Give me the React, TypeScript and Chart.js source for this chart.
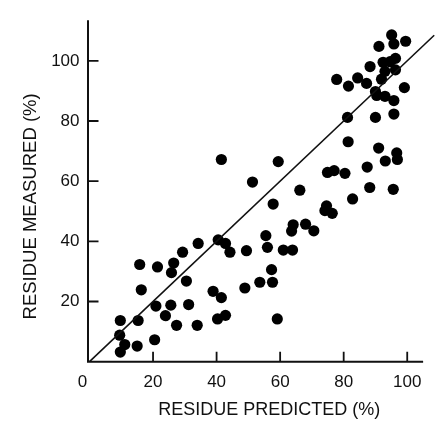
import React, { useEffect, useRef } from "react";
import { Chart, registerables } from "chart.js";

Chart.register(...registerables);

// Scatter data (predicted %, measured %)
const predicted = [
  41.5, 51.3, 95.1, 91.1, 95.8, 99.5, 96.3, 92.4, 94.6, 88.3,
  93.0, 96.3, 91.9, 77.8, 84.4, 87.2, 81.5, 99.1, 90.0, 90.4,
  93.0, 95.8, 81.2, 90.0, 95.8, 81.4, 91.0, 96.7, 96.9, 93.1,
  59.4, 87.4, 74.9, 77.0, 80.4, 66.2, 88.2, 95.6, 57.8, 82.8,
  74.6, 74.1, 76.4, 64.1, 68.0, 63.6, 70.6, 55.5, 56.0, 61.0,
  63.9, 57.3, 53.6, 57.6, 59.1, 40.5, 42.8, 44.2, 49.4, 34.2,
  29.3, 26.5, 25.8, 15.8, 21.4, 30.5, 16.3, 48.9, 38.9, 41.5,
  20.9, 25.6, 31.2, 23.9, 9.7, 15.3, 27.4, 33.9, 40.3, 42.8,
  9.5, 20.5, 11.1, 15.0, 9.7,
];
const measured = [
  67.2, 59.7, 108.6, 104.8, 105.6, 106.5, 100.8, 99.5, 99.7, 98.1,
  96.5, 97.0, 93.9, 93.8, 94.3, 92.5, 91.6, 91.1, 89.8, 88.5,
  88.2, 86.8, 81.2, 81.2, 82.3, 73.1, 71.0, 69.4, 67.2, 66.7,
  66.5, 64.7, 62.9, 63.5, 62.6, 57.0, 57.9, 57.3, 52.4, 54.1,
  51.8, 50.2, 49.3, 45.5, 45.7, 43.4, 43.5, 41.9, 38.0, 37.1,
  37.1, 30.6, 26.4, 26.4, 14.2, 40.5, 39.3, 36.4, 36.9, 39.3,
  36.4, 32.8, 29.6, 32.3, 31.5, 26.8, 23.9, 24.5, 23.4, 21.3,
  18.5, 18.8, 19.0, 15.3, 13.7, 13.7, 12.1, 12.1, 14.2, 15.4,
  8.8, 7.3, 5.7, 5.2, 3.2,
];

// 1:1 reference line
const lineX = [0, 108.5];
const lineY = [0, 108.5];

const tickValues = [0, 20, 40, 60, 80, 100];
const xAxisEnd = 105;
const yAxisEnd = 113.5;

const FONT = "'Liberation Sans', Arial, Helvetica, sans-serif";
const INK = "#111111";

const axisPlugin = {
  id: "axisLines",
  afterDraw(chart: any) {
    const { ctx, scales } = chart;
    const xs = scales.x;
    const ys = scales.y;
    const x0 = xs.getPixelForValue(0);
    const y0 = ys.getPixelForValue(0);
    ctx.save();
    ctx.strokeStyle = INK;
    ctx.lineWidth = 2;
    ctx.beginPath();
    ctx.moveTo(x0 - 2, y0);
    ctx.lineTo(xs.getPixelForValue(xAxisEnd), y0);
    ctx.moveTo(x0 - 1.5, y0 + 1);
    ctx.lineTo(x0 - 1.5, ys.getPixelForValue(yAxisEnd));
    ctx.stroke();
    ctx.lineWidth = 1.8;
    ctx.beginPath();
    for (const v of tickValues) {
      if (v === 0) continue;
      const px = xs.getPixelForValue(v);
      ctx.moveTo(px, y0);
      ctx.lineTo(px, y0 - 10);
      const py = ys.getPixelForValue(v);
      ctx.moveTo(x0 - 1.5, py);
      ctx.lineTo(x0 + 9, py);
    }
    ctx.stroke();
    ctx.restore();
  },
};

export default function App() {
  const ref = useRef<HTMLCanvasElement | null>(null);

  useEffect(() => {
    if (!ref.current) return;
    const points = predicted.map((x, i) => ({ x, y: measured[i] }));
    const line = lineX.map((x, i) => ({ x, y: lineY[i] }));
    const chart = new Chart(ref.current, {
      type: "scatter",
      data: {
        datasets: [
          {
            label: "line",
            data: line,
            showLine: true,
            borderColor: INK,
            borderWidth: 1.6,
            pointRadius: 0,
            fill: false,
          } as any,
          {
            label: "samples",
            data: points,
            backgroundColor: "#000000",
            borderWidth: 0,
            pointRadius: 5.6,
            pointHoverRadius: 5.6,
          },
        ],
      },
      options: {
        animation: false,
        responsive: true,
        maintainAspectRatio: false,
        layout: { padding: { top: 0, right: 6, left: 0, bottom: 0 } },
        plugins: { legend: { display: false }, tooltip: { enabled: false } },
        elements: { point: { hitRadius: 0 } },
        datasets: { scatter: { clip: false } as any },
        scales: {
          x: {
            type: "linear",
            min: 0,
            max: 110,
            afterFit: (s: any) => {
              s.height = 63.3;
            },
            afterBuildTicks: (s: any) => {
              s.ticks = tickValues.map((v) => ({ value: v }));
            },
            grid: { display: false, drawTicks: false },
            border: { display: false },
            ticks: {
              padding: 10,
              color: INK,
              font: { family: FONT, size: 17 },
              callback: (v: any) => (Number(v) === 0 ? "0   " : String(v)),
            },
            title: {
              display: true,
              text: "  RESIDUE PREDICTED (%)",
              color: INK,
              font: { family: FONT, size: 18 },
              padding: { top: 0, bottom: 4 },
            },
          },
          y: {
            type: "linear",
            min: 0,
            max: yAxisEnd,
            afterFit: (s: any) => {
              s.width = 89.5;
            },
            afterBuildTicks: (s: any) => {
              s.ticks = tickValues.filter((v) => v > 0).map((v) => ({ value: v }));
            },
            grid: { display: false, drawTicks: false },
            border: { display: false },
            ticks: {
              padding: 10,
              color: INK,
              font: { family: FONT, size: 17 },
            },
            title: {
              display: true,
              text: "RESIDUE MEASURED (%)      ",
              color: INK,
              font: { family: FONT, size: 18.5 },
              padding: { top: 20, bottom: 0 },
            },
          },
        },
      },
      plugins: [axisPlugin],
    });
    return () => chart.destroy();
  }, []);

  return (
    <div style={{ position: "absolute", left: 0, top: 0, width: 445, height: 425, background: "#ffffff" }}>
      <canvas ref={ref} />
    </div>
  );
}
